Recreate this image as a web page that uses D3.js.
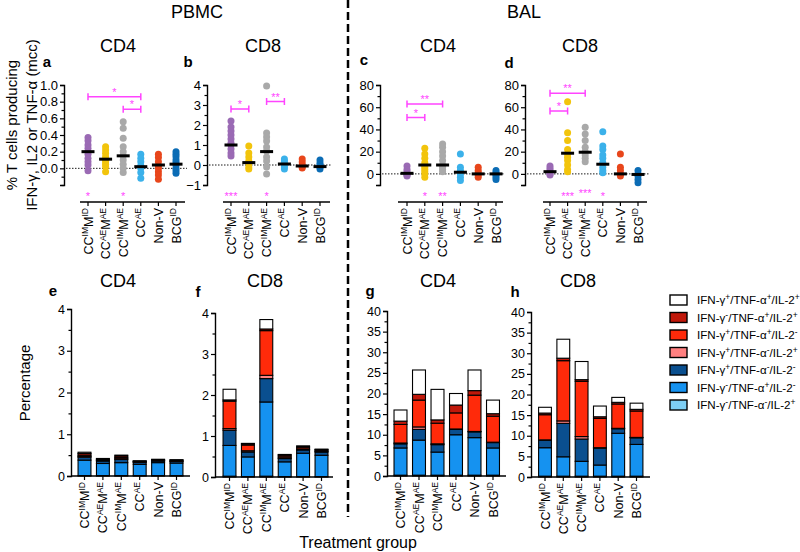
<!DOCTYPE html>
<html><head><meta charset="utf-8">
<script src="https://cdn.jsdelivr.net/npm/d3@7"></script>
<style>body{margin:0;background:#fff} svg{font-family:"Liberation Sans",Arial,sans-serif}</style>
</head><body><svg id="c" width="800" height="552"></svg>
<script>
// ---------- DATA ----------
const groups = ["CCIMMID","CCAEMAE","CCIMMAE","CCAE","Non-V","BCGID"];
const groupLabels = [
  [["CC",0],["IM",1],["M",0],["ID",1]],
  [["CC",0],["AE",1],["M",0],["AE",1]],
  [["CC",0],["IM",1],["M",0],["AE",1]],
  [["CC",0],["AE",1]],
  [["Non-V",0]],
  [["BCG",0],["ID",1]]
];
const groupColors = ["#9a6ab4","#f2c40c","#a9a9a9","#3bb1ea","#e8461b","#0b6cb5"];

const pbmcCD4 = [
  [0.37,0.33,0.28,0.24,0.2,0.17,0.12,0.08,0.04,-0.03],
  [0.26,0.22,0.18,0.14,0.11,0.08,0.05,0.02,-0.04],
  [0.56,0.48,0.36,0.26,0.2,0.15,0.1,0.05,0.0,-0.05],
  [0.17,0.12,0.08,0.03,0.0,-0.05,-0.12],
  [0.17,0.13,0.08,0.03,0.0,-0.04,-0.08,-0.13],
  [0.2,0.17,0.14,0.1,0.07,0.04,0.0,-0.03,-0.06]
];
const pbmcCD4Median = [0.2,0.11,0.15,0.02,0.04,0.05];
const pbmcCD8 = [
  [2.2,1.9,1.7,1.5,1.3,1.1,1.0,0.8,0.6,0.45],
  [0.95,0.6,0.4,0.2,0.1,-0.1,-0.2],
  [3.95,1.6,1.4,1.2,0.9,0.7,0.4,0.2,-0.1,-0.45],
  [0.3,0.2,0.1,0.0,-0.1,-0.2],
  [0.3,0.15,0.0,-0.1,-0.15],
  [0.25,0.1,0.0,-0.1,-0.2]
];
const pbmcCD8Median = [1.0,0.12,0.67,0.05,-0.05,-0.08];
const balCD4 = [
  [7,4,2,0,-1,-2],
  [23,18,14,10,8,6,4,2,0,-3],
  [27,24,20,16,12,8,6,4,2],
  [18,6,3,0,-3,-6],
  [6,3,1,-1,-3],
  [3,1,0,-1,-3,-5]
];
const balCD4Median = [0.5,8,8,1.5,0,0];
const balCD8 = [
  [7,5,3,1,0,-1],
  [65,37,30,22,18,15,12,8,4,2],
  [42,36,30,24,20,17,14,11],
  [38,25,22,17,14,10,6,3,1],
  [18,6,3,0,-2],
  [3,0,-2,-5,-8]
];
const balCD8Median = [2,18.6,19.5,8.7,0,-0.5];

// significance: [from, to, height, label]
const bracketsA = [[0,3,0.86,"*"],[2,3,0.71,"*"]];
const bracketsB = [[0,1,2.8,"*"],[2,3,3.17,"**"]];
const bracketsC = [[0,1,50.7,"*"],[0,2,63,"**"]];
const bracketsD = [[0,1,56.7,"*"],[0,2,72.6,"**"]];
const starsA = [[0,"*"],[2,"*"]];
const starsB = [[0,"***"],[2,"*"]];
const starsC = [[1,"*"],[2,"**"]];
const starsD = [[1,"***"],[2,"***"],[3,"*"]];

// stacked: keys bottom -> top
const stackKeys = ["lb","b","db","pink","red","dr","white"];
const stackColors = ["#7dcff5","#1592f0","#0a4f8f","#ff8080","#ff2a0a","#c0180a","#ffffff"];
const stackE = [
  [0.01,0.37,0.07,0.02,0.03,0.04,0.03],
  [0.01,0.29,0.06,0.01,0.02,0.02,0.01],
  [0.01,0.31,0.08,0.01,0.03,0.04,0.02],
  [0.01,0.27,0.05,0.005,0.01,0.015,0.005],
  [0.01,0.31,0.04,0.005,0.01,0.02,0.005],
  [0.01,0.30,0.04,0.005,0.01,0.02,0.005]
];
const stackF = [
  [0.02,0.75,0.37,0.04,0.67,0.03,0.26],
  [0.01,0.48,0.12,0.03,0.14,0.03,0.01],
  [0.02,1.81,0.57,0.08,1.09,0.04,0.23],
  [0.01,0.36,0.08,0.02,0.04,0.03,0.01],
  [0.01,0.57,0.08,0.01,0.04,0.03,0.02],
  [0.01,0.52,0.08,0.01,0.03,0.02,0.01]
];
const stackG = [
  [0.2,6.6,1.0,0.2,4.5,0.8,2.7],
  [0.2,8.5,2.6,0.6,6.5,1.4,5.9],
  [0.2,5.6,1.8,0.2,5.0,0.8,7.4],
  [0.2,9.8,1.3,0.1,3.9,1.9,2.8],
  [0.2,9.1,1.4,0.1,8.8,1.1,5.0],
  [0.2,6.6,1.3,0.1,6.3,0.6,3.3]
];
const stackH = [
  [0.2,6.9,1.8,0.1,6.1,0.4,1.4],
  [0.2,4.7,8.1,0.6,14.6,0.6,4.6],
  [0.2,3.6,5.4,0.6,13.4,0.4,4.4],
  [0.2,2.7,4.1,0.1,7.1,0.4,2.6],
  [0.2,10.4,1.1,0.1,5.9,0.4,1.2],
  [0.2,7.7,1.6,0.1,6.4,0.4,1.5]
];
const legendLabels = [
  ["+","+","+"],["-","+","+"],["+","+","-"],["+","-","+"],["+","-","-"],["-","+","-"],["-","-","+"]
];
const legendColors = ["#ffffff","#c0180a","#ff2a0a","#ff8080","#0a4f8f","#1592f0","#7dcff5"];

// ---------- DRAW ----------
const svg = d3.select("#c");
const MAG = "#ff44ff";

function styleAxis(g){
  g.select(".domain").attr("stroke","#000").attr("stroke-width",1.4);
  g.selectAll(".tick line").attr("stroke","#000").attr("stroke-width",1.2);
  g.selectAll(".tick text").attr("fill","#000");
}

function xLabel(parent, x, y, parts){
  const g = parent.append("g").attr("transform",`translate(${x},${y}) rotate(-90)`);
  const t = g.append("text").attr("x",0).attr("y",4.5).attr("text-anchor","end")
    .attr("font-size",12.5).attr("fill","#000");
  let sup = false;
  parts.forEach(([s,isSup])=>{
    const ts = t.append("tspan").text(s);
    if(isSup && !sup){ ts.attr("dy",-4.5).attr("font-size",8.5); sup=true; }
    else if(isSup && sup){ ts.attr("font-size",8.5); }
    else if(!isSup && sup){ ts.attr("dy",4.5); sup=false; }
  });
}

function drawScatter(cfg){
  const y = d3.scaleLinear().domain(cfg.domain).range([185,85]);
  const x = d3.scalePoint().domain(groups).range([cfg.cx0,cfg.cx1]);
  const g = svg.append("g");
  const ay = g.append("g").attr("transform",`translate(${cfg.ax},0)`)
    .call(d3.axisLeft(y).tickValues(cfg.ticks).tickSize(4).tickPadding(2).tickFormat(cfg.fmt));
  ay.selectAll("text").attr("font-size",13);
  styleAxis(ay);
  const am = g.append("g").attr("transform",`translate(${cfg.ax},0)`)
    .call(d3.axisLeft(y).tickValues(cfg.minor).tickSize(2.5).tickFormat(""));
  styleAxis(am); am.select(".domain").remove();
  g.append("line").attr("x1",cfg.ax+2).attr("x2",cfg.xe+2).attr("y1",y(0)).attr("y2",y(0))
    .attr("stroke","#000").attr("stroke-width",0.9).attr("stroke-dasharray","1.5,1.5");
  g.append("line").attr("x1",cfg.xs).attr("x2",cfg.xe).attr("y1",202).attr("y2",202)
    .attr("stroke","#000").attr("stroke-width",1.4);
  groups.forEach((k,i)=>{
    g.append("line").attr("x1",x(k)).attr("x2",x(k)).attr("y1",202).attr("y2",206)
      .attr("stroke","#000").attr("stroke-width",1.2);
    xLabel(g, x(k), 208, groupLabels[i]);
  });
  cfg.data.forEach((vals,i)=>{
    g.selectAll(null).data(vals).enter().append("circle")
      .attr("cx",x(groups[i])).attr("cy",d=>y(d)).attr("r",3.5).attr("fill",groupColors[i]);
  });
  g.selectAll(null).data(cfg.median).enter().append("rect")
    .attr("x",(d,i)=>x(groups[i])-6.5).attr("y",d=>y(d)-1.5).attr("width",13).attr("height",3).attr("fill","#000");
  cfg.brackets.forEach(([a,b,h,lab])=>{
    const x1=x(groups[a]), x2=x(groups[b]), yy=y(h);
    g.append("path").attr("d",`M${x1},${yy-3.5}V${yy+3.5}M${x1},${yy}H${x2}M${x2},${yy-3.5}V${yy+3.5}`)
      .attr("stroke",MAG).attr("stroke-width",1.5).attr("fill","none");
    g.append("text").attr("x",(x1+x2)/2).attr("y",yy-1).attr("text-anchor","middle")
      .attr("font-size",11).attr("fill",MAG).text(lab);
  });
  cfg.stars.forEach(([i,lab],j)=>{
    const yy = (cfg.starUp && cfg.starUp[j]) ? 197 : 200;
    g.append("text").attr("x",x(groups[i])).attr("y",yy).attr("text-anchor","middle")
      .attr("font-size",11).attr("fill",MAG).text(lab);
  });
}

const tA=[0,0.2,0.4,0.6,0.8,1.0], mA=[-0.2,-0.1,0.1,0.3,0.5,0.7,0.9];
drawScatter({domain:[-0.2,1.0],ax:64,xs:80,xe:185,cx0:88,cx1:176,ticks:tA,minor:mA,fmt:d3.format(".1f"),
  data:pbmcCD4,median:pbmcCD4Median,brackets:bracketsA,stars:starsA});
drawScatter({domain:[-1,4],ax:207,xs:223,xe:330,cx0:231,cx1:320,ticks:[-1,0,1,2,3,4],minor:[-0.5,0.5,1.5,2.5,3.5],fmt:d3.format("d"),
  data:pbmcCD8,median:pbmcCD8Median,brackets:bracketsB,stars:starsB});
drawScatter({domain:[-10,80],ax:380,xs:398,xe:503,cx0:407,cx1:496,ticks:[0,20,40,60,80],minor:[-10,10,30,50,70],fmt:d3.format("d"),
  data:balCD4,median:balCD4Median,brackets:bracketsC,stars:starsC});
drawScatter({domain:[-10,80],ax:525,xs:543,xe:647,cx0:550,cx1:638,ticks:[0,20,40,60,80],minor:[-10,10,30,50,70],fmt:d3.format("d"),
  data:balCD8,median:balCD8Median,brackets:bracketsD,stars:starsD,starUp:[false,true,false]});

function drawStack(cfg){
  const y = d3.scaleLinear().domain(cfg.domain).range([cfg.y0,cfg.y1]);
  const x = d3.scalePoint().domain(groups).range([cfg.cx0,cfg.cx1]);
  const bw = x.step()*0.7;
  const g = svg.append("g");
  const rows = cfg.data.map((r,i)=>{const o={grp:groups[i]}; stackKeys.forEach((k,j)=>o[k]=r[j]); return o;});
  const series = d3.stack().keys(stackKeys)(rows);
  series.forEach((s,si)=>{
    g.selectAll(null).data(s).enter().append("rect")
      .attr("x",d=>x(d.data.grp)-bw/2).attr("width",bw)
      .attr("y",d=>y(d[1])).attr("height",d=>Math.max(0,y(d[0])-y(d[1])))
      .attr("fill",stackColors[si]).attr("stroke","#000").attr("stroke-width",1.1);
  });
  const ay = g.append("g").attr("transform",`translate(${cfg.ax},0)`)
    .call(d3.axisLeft(y).tickValues(cfg.ticks).tickSize(4).tickPadding(2).tickFormat(d3.format("d")));
  ay.selectAll("text").attr("font-size",12.5);
  styleAxis(ay);
  const am = g.append("g").attr("transform",`translate(${cfg.ax},0)`)
    .call(d3.axisLeft(y).tickValues(cfg.minor).tickSize(2.5).tickFormat(""));
  styleAxis(am); am.select(".domain").remove();
  g.append("line").attr("x1",cfg.ax).attr("x2",cfg.xe).attr("y1",cfg.y0).attr("y2",cfg.y0)
    .attr("stroke","#000").attr("stroke-width",1.4);
  groups.forEach((k,i)=>{
    g.append("line").attr("x1",x(k)).attr("x2",x(k)).attr("y1",cfg.y0).attr("y2",cfg.y0+4)
      .attr("stroke","#000").attr("stroke-width",1.2);
    xLabel(g, x(k), cfg.y0+6, groupLabels[i]);
  });
}
const t4=[0,1,2,3,4], m4=[0.5,1.5,2.5,3.5];
const t40=[0,5,10,15,20,25,30,35,40], m40=[2.5,7.5,12.5,17.5,22.5,27.5,32.5,37.5];
drawStack({domain:[0,4],y0:476,y1:309,ax:71,xe:190,cx0:84.5,cx1:176.5,ticks:t4,minor:m4,data:stackE});
drawStack({domain:[0,4],y0:477,y1:313,ax:215,xe:333,cx0:229.5,cx1:321.5,ticks:t4,minor:m4,data:stackF});
drawStack({domain:[0,40],y0:476,y1:311,ax:387,xe:506,cx0:400.5,cx1:493,ticks:t40,minor:m40,data:stackG});
drawStack({domain:[0,40],y0:477,y1:312,ax:531,xe:650,cx0:545,cx1:636.5,ticks:t40,minor:m40,data:stackH});

// legend
const lg = svg.append("g");
legendLabels.forEach((s,i)=>{
  const yy = 300 + i*17.5;
  lg.append("rect").attr("x",670).attr("y",yy-5).attr("width",17).attr("height",10)
    .attr("fill",legendColors[i]).attr("stroke","#000").attr("stroke-width",1.4);
  const t = lg.append("text").attr("x",697).attr("y",yy+4).attr("font-size",11.6).attr("fill","#000");
  const segs = ["IFN-γ","/TNF-α","/IL-2"];
  segs.forEach((seg,j)=>{
    t.append("tspan").attr("dy", j===0?0:4).text(seg);
    t.append("tspan").attr("dy",-4).attr("font-size",8.5).text(s[j]);
  });
});

function txt(x,y,s,size,opts={}){
  const t = svg.append("text").attr("x",x).attr("y",y).attr("font-size",size).attr("fill","#000")
    .attr("text-anchor",opts.anchor||"middle").text(s);
  if(opts.bold) t.attr("font-weight","bold");
  if(opts.rot) t.attr("transform",`rotate(-90,${x},${y})`);
  return t;
}
txt(197,18,"PBMC",18);
txt(524,18,"BAL",18);
txt(118,52,"CD4",18); txt(263,52,"CD8",18); txt(438,52,"CD4",18); txt(580,52,"CD8",18);
txt(118,287,"CD4",18); txt(265,287,"CD8",18); txt(438,287,"CD4",18); txt(578,287,"CD8",18);
txt(47,67,"a",15,{bold:true}); txt(188,67,"b",15,{bold:true}); txt(364,65,"c",15,{bold:true}); txt(509,68,"d",15,{bold:true});
txt(53,296,"e",15,{bold:true}); txt(198,297,"f",15,{bold:true}); txt(370,296,"g",15,{bold:true}); txt(515,297,"h",15,{bold:true});
txt(17,125,"% T cells producing",15,{rot:true});
txt(37,125,"IFN-γ, IL2 or TNF-α (mcc)",15,{rot:true});
txt(30,383,"Percentage",15,{rot:true});
txt(358,548,"Treatment group",16);

svg.append("line").attr("x1",348).attr("x2",348).attr("y1",0).attr("y2",517)
  .attr("stroke","#000").attr("stroke-width",2.5).attr("stroke-dasharray","8,4");
</script></body></html>
